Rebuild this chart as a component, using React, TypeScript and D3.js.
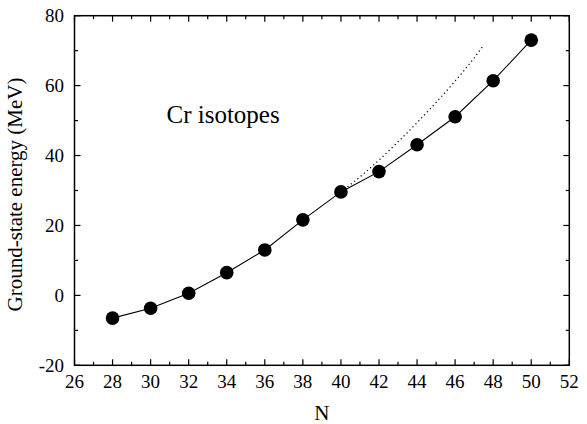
import React from "react";
import * as d3 from "d3";

const nValues = [28, 30, 32, 34, 36, 38, 40, 42, 44, 46, 48, 50];
const energies = [-6.5, -3.7, 0.6, 6.5, 13.0, 21.6, 29.6, 35.4, 43.1, 51.1, 61.4, 73.0];
const extrapN = [40, 41, 42, 43, 44, 45, 46, 47, 47.5];
const extrapE = [29.6, 33.9, 38.7, 43.9, 49.4, 55.2, 61.3, 67.9, 71.6];
const xMajorTicks = [26, 28, 30, 32, 34, 36, 38, 40, 42, 44, 46, 48, 50, 52];
const yMajorTicks = [-20, 0, 20, 40, 60, 80];

const W = 587;
const H = 424;
const L = 74.5, R = 569.3, T = 15.7, B = 365.3;
const FONT = "'Liberation Serif', 'Times New Roman', serif";

export default function App() {
  const x = d3.scaleLinear().domain([26, 52]).range([L, R]);
  const y = d3.scaleLinear().domain([-20, 80]).range([B, T]);
  const xMinor = d3.range(27, 52, 2);
  const yMinor = d3.range(-10, 80, 20);

  const line = d3.line<[number, number]>().x((d) => x(d[0])).y((d) => y(d[1]));
  const mainPts: [number, number][] = nValues.map((n, i) => [n, energies[i]]);
  const extPts: [number, number][] = extrapN.map((n, i) => [n, extrapE[i]]);
  const dotted = d3.line<[number, number]>().x((d) => x(d[0])).y((d) => y(d[1])).curve(d3.curveMonotoneX);

  return (
    <svg width={W} height={H} style={{ position: "absolute", left: 0, top: 0 }} fontFamily={FONT}>
      <rect x={0} y={0} width={W} height={H} fill="#fff" />
      {/* frame */}
      <rect x={L} y={T} width={R - L} height={B - T} fill="none" stroke="#000" strokeWidth={1.5} />
      {/* x ticks */}
      {xMajorTicks.map((t) => (
        <g key={"xm" + t}>
          <line x1={x(t)} x2={x(t)} y1={B} y2={B - 6} stroke="#000" strokeWidth={1.2} />
          <line x1={x(t)} x2={x(t)} y1={T} y2={T + 6} stroke="#000" strokeWidth={1.2} />
          <text x={x(t)} y={388} textAnchor="middle" fontSize={19}>{t}</text>
        </g>
      ))}
      {xMinor.map((t) => (
        <g key={"xn" + t}>
          <line x1={x(t)} x2={x(t)} y1={B} y2={B - 3.5} stroke="#000" strokeWidth={1.2} />
          <line x1={x(t)} x2={x(t)} y1={T} y2={T + 3.5} stroke="#000" strokeWidth={1.2} />
        </g>
      ))}
      {/* y ticks */}
      {yMajorTicks.map((t) => (
        <g key={"ym" + t}>
          <line x1={L} x2={L + 6} y1={y(t)} y2={y(t)} stroke="#000" strokeWidth={1.2} />
          <line x1={R} x2={R - 6} y1={y(t)} y2={y(t)} stroke="#000" strokeWidth={1.2} />
          <text x={64} y={y(t)} dy="0.35em" textAnchor="end" fontSize={19}>{t}</text>
        </g>
      ))}
      {yMinor.map((t) => (
        <g key={"yn" + t}>
          <line x1={L} x2={L + 3.5} y1={y(t)} y2={y(t)} stroke="#000" strokeWidth={1.2} />
          <line x1={R} x2={R - 3.5} y1={y(t)} y2={y(t)} stroke="#000" strokeWidth={1.2} />
        </g>
      ))}
      {/* dotted extrapolation */}
      <path d={dotted(extPts) || ""} fill="none" stroke="#000" strokeWidth={1.2} strokeDasharray="1.2 3" />
      {/* main line */}
      <path d={line(mainPts) || ""} fill="none" stroke="#000" strokeWidth={1.1} />
      {mainPts.map((d, i) => (
        <circle key={i} cx={x(d[0])} cy={y(d[1])} r={6.8} fill="#000" />
      ))}
      {/* labels */}
      <text x={166.5} y={122.7} fontSize={25}>Cr isotopes</text>
      <text x={(L + R) / 2} y={420} textAnchor="middle" fontSize={21}>N</text>
      <text transform={`translate(22, ${(T + B) / 2 + 4}) rotate(-90)`} textAnchor="middle" fontSize={21}>
        Ground-state energy (MeV)
      </text>
    </svg>
  );
}
